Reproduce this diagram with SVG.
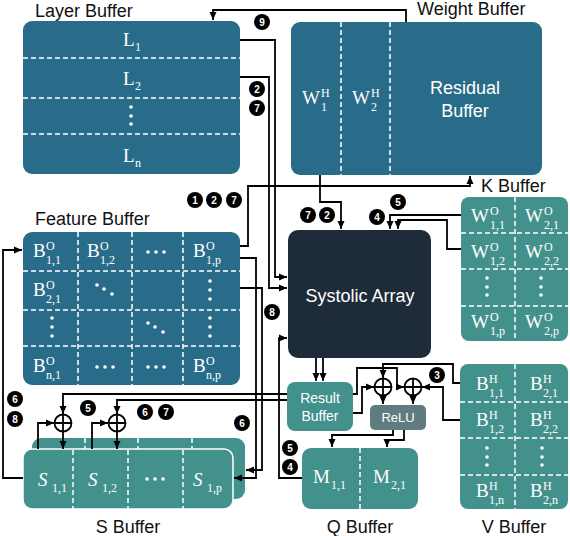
<svg xmlns="http://www.w3.org/2000/svg" width="570" height="536" viewBox="0 0 570 536">
<style>
.blue{fill:#296C89}
.teal{fill:#43918C}
.dash{stroke:#fff;stroke-width:1.5;stroke-dasharray:5 3;fill:none}
.lbl{font-family:"Liberation Sans",Arial,sans-serif;font-size:18px;fill:#111}
.wt{font-family:"Liberation Sans",Arial,sans-serif;fill:#fff}
.m{font-family:"Liberation Serif","Times New Roman",serif;font-size:19px;fill:#fff}
.s{font-size:12px}
.it{font-style:italic}
.up{font-style:normal}
.dot{fill:#fff}
.ln{fill:none;stroke:#000;stroke-width:1.8}
.ar{marker-end:url(#ah)}
.bd circle{fill:#000}
.bd text{font-family:"Liberation Sans",Arial,sans-serif;font-size:10px;fill:#fff;text-anchor:middle;font-weight:bold}
.pl circle{fill:#fff;stroke:#000;stroke-width:1.8}
.pl path{stroke:#000;stroke-width:1.8}
</style>
<defs>
<marker id="ah" markerUnits="userSpaceOnUse" markerWidth="8" markerHeight="8" refX="8" refY="4" orient="auto">
<path d="M0,0.5 L8,4 L0,7.5 z" fill="#000"/>
</marker>
</defs>

<g id="layer-buffer">
<text class="lbl" x="35" y="17">Layer Buffer</text>
<rect class="blue" x="23" y="21" width="217" height="153" rx="9"/>
<path class="dash" d="M23,58H240M23,98H240M23,134H240"/>
<text class="m" x="123" y="46">L<tspan class="s" x="135" dy="5">1</tspan></text>
<text class="m" x="123" y="85">L<tspan class="s" x="135" dy="5">2</tspan></text>
<circle class="dot" cx="131" cy="107" r="1.8"/><circle class="dot" cx="131" cy="116" r="1.8"/><circle class="dot" cx="131" cy="124" r="1.8"/>
<text class="m" x="123" y="162">L<tspan class="s" x="135" dy="5">n</tspan></text>
</g>

<g id="weight-buffer">
<text class="lbl" x="417" y="15" font-size="17">Weight Buffer</text>
<rect class="blue" x="291" y="22" width="251" height="153" rx="9"/>
<path class="dash" d="M341,22V175M390,22V175"/>
<text class="m" x="302" y="104">W<tspan class="s" x="321" dy="-7">H</tspan><tspan class="s" x="321" dy="14">1</tspan></text>
<text class="m" x="352" y="104">W<tspan class="s" x="371" dy="-7">H</tspan><tspan class="s" x="371" dy="14">2</tspan></text>
<text class="wt" x="465" y="94" font-size="18" text-anchor="middle">Residual</text>
<text class="wt" x="465" y="117" font-size="18" text-anchor="middle">Buffer</text>
</g>

<g id="feature-buffer">
<text class="lbl" x="35" y="225">Feature Buffer</text>
<rect class="blue" x="23" y="232" width="217" height="153" rx="9"/>
<path class="dash" d="M78,232V385M132,232V385M183,232V385M23,271H240M23,310H240M23,346H240"/>
<text class="m" x="33" y="257">B<tspan class="s" x="46" dy="-7">O</tspan><tspan class="s" x="46" dy="14">1,1</tspan></text>
<text class="m" x="87" y="257">B<tspan class="s" x="100" dy="-7">O</tspan><tspan class="s" x="100" dy="14">1,2</tspan></text>
<circle class="dot" cx="148" cy="252" r="1.8"/><circle class="dot" cx="156" cy="252" r="1.8"/><circle class="dot" cx="164" cy="252" r="1.8"/>
<text class="m" x="193" y="257">B<tspan class="s" x="206" dy="-7">O</tspan><tspan class="s" x="206" dy="14">1,p</tspan></text>
<text class="m" x="33" y="296">B<tspan class="s" x="46" dy="-7">O</tspan><tspan class="s" x="46" dy="14">2,1</tspan></text>
<circle class="dot" cx="97" cy="285" r="1.8"/><circle class="dot" cx="104" cy="289" r="1.8"/><circle class="dot" cx="112" cy="294" r="1.8"/>
<circle class="dot" cx="210" cy="281" r="1.8"/><circle class="dot" cx="210" cy="290" r="1.8"/><circle class="dot" cx="210" cy="299" r="1.8"/>
<circle class="dot" cx="52" cy="318" r="1.8"/><circle class="dot" cx="52" cy="327" r="1.8"/><circle class="dot" cx="52" cy="336" r="1.8"/>
<circle class="dot" cx="148" cy="323" r="1.8"/><circle class="dot" cx="155" cy="327" r="1.8"/><circle class="dot" cx="163" cy="332" r="1.8"/>
<circle class="dot" cx="210" cy="318" r="1.8"/><circle class="dot" cx="210" cy="327" r="1.8"/><circle class="dot" cx="210" cy="336" r="1.8"/>
<text class="m" x="33" y="372">B<tspan class="s" x="46" dy="-7">O</tspan><tspan class="s" x="46" dy="14">n,1</tspan></text>
<circle class="dot" cx="97" cy="367" r="1.8"/><circle class="dot" cx="105" cy="367" r="1.8"/><circle class="dot" cx="113" cy="367" r="1.8"/>
<circle class="dot" cx="148" cy="367" r="1.8"/><circle class="dot" cx="156" cy="367" r="1.8"/><circle class="dot" cx="164" cy="367" r="1.8"/>
<text class="m" x="193" y="372">B<tspan class="s" x="206" dy="-7">O</tspan><tspan class="s" x="206" dy="14">n,p</tspan></text>
</g>

<g id="systolic-array">
<rect x="288" y="230" width="143" height="128" rx="10" fill="#1E2B38"/>
<text class="wt" x="360" y="302" font-size="18" text-anchor="middle">Systolic Array</text>
</g>

<g id="k-buffer">
<text class="lbl" x="481" y="192">K Buffer</text>
<rect class="teal" x="461" y="197" width="107" height="144" rx="8"/>
<path class="dash" d="M515,197V341M461,233H568M461,269H568M461,306H568"/>
<text class="m" x="471" y="222">W<tspan class="s" x="490" dy="-7">O</tspan><tspan class="s" x="490" dy="14">1,1</tspan></text>
<text class="m" x="525" y="222">W<tspan class="s" x="544" dy="-7">O</tspan><tspan class="s" x="544" dy="14">2,1</tspan></text>
<text class="m" x="471" y="258">W<tspan class="s" x="490" dy="-7">O</tspan><tspan class="s" x="490" dy="14">1,2</tspan></text>
<text class="m" x="525" y="258">W<tspan class="s" x="544" dy="-7">O</tspan><tspan class="s" x="544" dy="14">2,2</tspan></text>
<circle class="dot" cx="487" cy="278" r="1.8"/><circle class="dot" cx="487" cy="287" r="1.8"/><circle class="dot" cx="487" cy="295" r="1.8"/>
<circle class="dot" cx="541" cy="278" r="1.8"/><circle class="dot" cx="541" cy="287" r="1.8"/><circle class="dot" cx="541" cy="295" r="1.8"/>
<text class="m" x="471" y="328">W<tspan class="s" x="490" dy="-7">O</tspan><tspan class="s" x="490" dy="14">1,p</tspan></text>
<text class="m" x="525" y="328">W<tspan class="s" x="544" dy="-7">O</tspan><tspan class="s" x="544" dy="14">2,p</tspan></text>
</g>

<g id="v-buffer">
<rect class="teal" x="460" y="364" width="108" height="145" rx="8"/>
<path class="dash" d="M515,364V509M460,402H568M460,438H568M460,475H568"/>
<text class="m" x="476" y="390">B<tspan class="s" x="489" dy="-7">H</tspan><tspan class="s" x="489" dy="14">1,1</tspan></text>
<text class="m" x="530" y="390">B<tspan class="s" x="543" dy="-7">H</tspan><tspan class="s" x="543" dy="14">2,1</tspan></text>
<text class="m" x="476" y="426">B<tspan class="s" x="489" dy="-7">H</tspan><tspan class="s" x="489" dy="14">1,2</tspan></text>
<text class="m" x="530" y="426">B<tspan class="s" x="543" dy="-7">H</tspan><tspan class="s" x="543" dy="14">2,2</tspan></text>
<circle class="dot" cx="487" cy="448" r="1.8"/><circle class="dot" cx="487" cy="457" r="1.8"/><circle class="dot" cx="487" cy="465" r="1.8"/>
<circle class="dot" cx="542" cy="448" r="1.8"/><circle class="dot" cx="542" cy="457" r="1.8"/><circle class="dot" cx="542" cy="465" r="1.8"/>
<text class="m" x="476" y="497">B<tspan class="s" x="489" dy="-7">H</tspan><tspan class="s" x="489" dy="14">1,n</tspan></text>
<text class="m" x="530" y="497">B<tspan class="s" x="543" dy="-7">H</tspan><tspan class="s" x="543" dy="14">2,n</tspan></text>
<text class="lbl" x="514" y="533" text-anchor="middle">V Buffer</text>
</g>

<g id="result-buffer">
<rect class="teal" x="287" y="382" width="66" height="49" rx="8"/>
<text class="wt" x="320" y="403" font-size="14" text-anchor="middle">Result</text>
<text class="wt" x="320" y="421" font-size="14" text-anchor="middle">Buffer</text>
</g>

<g id="relu">
<rect x="370" y="405" width="56" height="25" rx="5" fill="#607C80"/>
<text class="wt" x="398" y="422" font-size="13" text-anchor="middle">ReLU</text>
</g>

<g id="q-buffer">
<rect class="teal" x="302" y="448" width="116" height="61" rx="9"/>
<path class="dash" d="M360,448V509"/>
<text class="m" x="313" y="483">M<tspan class="s" x="331" dy="6">1,1</tspan></text>
<text class="m" x="373" y="483">M<tspan class="s" x="391" dy="6">2,1</tspan></text>
<text class="lbl" x="360" y="533" text-anchor="middle">Q Buffer</text>
</g>

<g id="s-buffer">
<rect class="teal" x="32" y="438" width="213" height="61" rx="9"/>
<path class="dash" d="M85,438V499M138,438V499M192,438V499"/>
<rect class="teal" x="23" y="449" width="210" height="60" rx="9" stroke="#fff" stroke-width="1.5"/>
<path class="dash" d="M73,450V509M128,450V509M183,450V509"/>
<text class="m it" x="38" y="486" font-size="22">S<tspan class="s up" x="52" dy="6">1,1</tspan></text>
<text class="m it" x="88" y="486" font-size="22">S<tspan class="s up" x="102" dy="6">1,2</tspan></text>
<circle class="dot" cx="147" cy="479" r="1.8"/><circle class="dot" cx="155" cy="479" r="1.8"/><circle class="dot" cx="163" cy="479" r="1.8"/>
<text class="m it" x="193" y="486" font-size="22">S<tspan class="s up" x="207" dy="6">1,p</tspan></text>
<text class="lbl" x="128" y="533" text-anchor="middle">S Buffer</text>
</g>

<g id="adders" class="pl">
<circle cx="63" cy="423" r="8.5"/><path d="M54.5,423H71.5M63,414.5V431.5"/>
<circle cx="117" cy="423" r="8.5"/><path d="M108.5,423H125.5M117,414.5V431.5"/>
<circle cx="383" cy="387" r="8.5"/><path d="M374.5,387H391.5M383,378.5V395.5"/>
<circle cx="413" cy="387" r="8.5"/><path d="M404.5,387H421.5M413,378.5V395.5"/>
</g>

<g id="connectors">
<path class="ln ar" d="M406,22V10H213V20"/>
<path class="ln ar" d="M240,40H275V277H287"/>
<path class="ln ar" d="M240,77H269V288H287"/>
<path class="ln ar" d="M240,246H248V186H470V176"/>
<path class="ln ar" d="M320,175V202H341V229"/>
<path class="ln ar" d="M461,215H390V229"/>
<path class="ln ar" d="M461,249H447V220H398V229"/>
<path class="ln ar" d="M240,258H256V478H234"/>
<path class="ln ar" d="M240,288H262V470H246"/>
<path class="ln ar" d="M302,478H279V338H287"/>
<path class="ln ar" d="M316,358V381"/>
<path class="ln ar" d="M323,358V381"/>
<path class="ln ar" d="M287,394H63V414"/>
<path class="ln ar" d="M287,400H117V414"/>
<path class="ln ar" d="M38,449V423H54"/>
<path class="ln ar" d="M92,449V423H108"/>
<path class="ln ar" d="M63,432V449"/>
<path class="ln ar" d="M117,432V449"/>
<path class="ln ar" d="M23,478H3V250H22"/>
<path class="ln ar" d="M353,394H357V368H397V387H404"/>
<path class="ln ar" d="M353,413H362V387H374"/>
<path class="ln ar" d="M460,383H453V364H383V378"/>
<path class="ln ar" d="M460,420H443V387H422"/>
<path class="ln ar" d="M383,396V404"/>
<path class="ln ar" d="M413,396V404"/>
<path class="ln ar" d="M393,430V435H332V447"/>
<path class="ln ar" d="M404,430V440H387V447"/>
</g>

<g id="step-badges" class="bd">
<circle cx="262" cy="22" r="8"/><text x="262" y="25.5">9</text>
<circle cx="257" cy="89" r="8"/><text x="257" y="92.5">2</text>
<circle cx="257" cy="108" r="8"/><text x="257" y="111.5">7</text>
<circle cx="195" cy="200" r="8"/><text x="195" y="203.5">1</text>
<circle cx="214" cy="200" r="8"/><text x="214" y="203.5">2</text>
<circle cx="234" cy="200" r="8"/><text x="234" y="203.5">7</text>
<circle cx="308" cy="215" r="8"/><text x="308" y="218.5">7</text>
<circle cx="327" cy="215" r="8"/><text x="327" y="218.5">2</text>
<circle cx="377" cy="217" r="8"/><text x="377" y="220.5">4</text>
<circle cx="398" cy="202" r="8"/><text x="398" y="205.5">5</text>
<circle cx="272" cy="312" r="8"/><text x="272" y="315.5">8</text>
<circle cx="242" cy="423" r="8"/><text x="242" y="426.5">6</text>
<circle cx="290" cy="448" r="8"/><text x="290" y="451.5">5</text>
<circle cx="290" cy="467" r="8"/><text x="290" y="470.5">4</text>
<circle cx="437" cy="375" r="8"/><text x="437" y="378.5">3</text>
<circle cx="15" cy="399" r="8"/><text x="15" y="402.5">6</text>
<circle cx="15" cy="419" r="8"/><text x="15" y="422.5">8</text>
<circle cx="88" cy="408" r="8"/><text x="88" y="411.5">5</text>
<circle cx="145" cy="412" r="8"/><text x="145" y="415.5">6</text>
<circle cx="166" cy="412" r="8"/><text x="166" y="415.5">7</text>
</g>
</svg>
